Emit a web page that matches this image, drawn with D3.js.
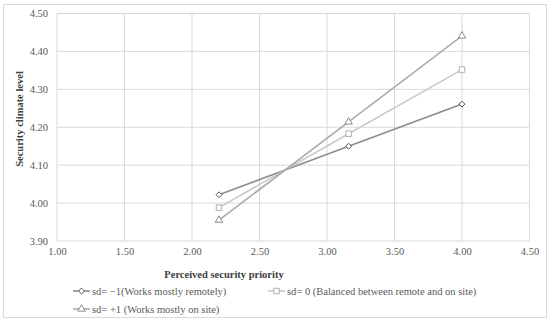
<!DOCTYPE html>
<html>
<head>
<meta charset="utf-8">
<script src="https://cdn.jsdelivr.net/npm/d3@7"></script>
<style>
body { margin: 0; background: #fff; }
text { font-family: "Liberation Serif", "Times New Roman", serif; }
</style>
</head>
<body>
<svg id="svg" width="550" height="322"></svg>
<script>
// chart data
var xValues = [2.2, 3.16, 4.0];
var seriesNames = ["sd= \u22121(Works mostly remotely)", "sd= 0 (Balanced between remote and on site)", "sd= +1 (Works mostly on site)"];
var lowValues = [4.022, 4.150, 4.261];
var midValues = [3.988, 4.183, 4.352];
var highValues = [3.955, 4.214, 4.441];
var xTicks = [1.0, 1.5, 2.0, 2.5, 3.0, 3.5, 4.0, 4.5];
var yTicks = [3.9, 4.0, 4.1, 4.2, 4.3, 4.4, 4.5];

var series = [
	{ name: seriesNames[0], values: lowValues, line: "#8c8c8c", mark: "#404040", symbol: d3.symbolDiamond2, size: 22 },
	{ name: seriesNames[1], values: midValues, line: "#c9c9c9", mark: "#a6a6a6", symbol: d3.symbolSquare, size: 30 },
	{ name: seriesNames[2], values: highValues, line: "#ababab", mark: "#7f7f7f", symbol: d3.symbolTriangle, size: 24 }
];

var svg = d3.select('#svg');

svg.append('rect')
	.attr('x', 3.5).attr('y', 4.5)
	.attr('width', 543).attr('height', 313)
	.attr('fill', '#fff')
	.attr('stroke', '#d9d9d9');

var x = d3.scaleLinear().domain([1.0, 4.5]).range([57, 529.5]);
var y = d3.scaleLinear().domain([3.9, 4.5]).range([241, 13.5]);

// grid
var grid = svg.append('g');
grid.selectAll('line.h')
	.data(yTicks)
	.enter()
	.append('line')
	.attr('x1', x(1.0)).attr('x2', x(4.5))
	.attr('y1', y).attr('y2', y)
	.attr('stroke', '#d9d9d9');
grid.selectAll('line.v')
	.data(xTicks)
	.enter()
	.append('line')
	.attr('y1', y(3.9)).attr('y2', y(4.5))
	.attr('x1', x).attr('x2', x)
	.attr('stroke', '#d9d9d9');

// axes, drawn only for their labels
var xAxis = svg.append('g')
	.attr('transform', 'translate(0,' + y(3.9) + ')')
	.call(d3.axisBottom(x).tickValues(xTicks).tickFormat(d3.format('.2f')).tickSize(0).tickPadding(7));
var yAxis = svg.append('g')
	.attr('transform', 'translate(' + x(1.0) + ',0)')
	.call(d3.axisLeft(y).tickValues(yTicks).tickFormat(d3.format('.2f')).tickSize(0).tickPadding(9));
[xAxis, yAxis].forEach(function(a){
	a.attr('font-family', '"Liberation Serif", serif');
	a.select('.domain').remove();
	a.selectAll('text')
		.style('font-family', '"Liberation Serif", serif')
		.style('font-size', '10.5px')
		.attr('fill', '#595959');
});

// lines + markers
var line = d3.line()
	.x(function(d, i){ return x(xValues[i]); })
	.y(function(d){ return y(d); });

series.forEach(function(s){
	svg.append('path')
		.attr('d', line(s.values))
		.attr('fill', 'none')
		.attr('stroke', s.line)
		.attr('stroke-width', 1.6);
});
series.forEach(function(s){
	svg.selectAll(null)
		.data(s.values)
		.enter()
		.append('path')
		.attr('d', d3.symbol().type(s.symbol).size(s.size))
		.attr('transform', function(d, i){ return 'translate(' + x(xValues[i]) + ',' + y(d) + ')'; })
		.attr('fill', '#fff')
		.attr('stroke', s.mark)
		.attr('stroke-width', 0.9);
});

// axis titles
svg.append('text')
	.attr('x', 224).attr('y', 278)
	.attr('text-anchor', 'middle')
	.attr('font-weight', 'bold')
	.attr('font-size', '10.5px')
	.attr('fill', '#404040')
	.text('Perceived security priority');
svg.append('text')
	.attr('transform', 'translate(23,119) rotate(-90)')
	.attr('text-anchor', 'middle')
	.attr('font-weight', 'bold')
	.attr('font-size', '10.5px')
	.attr('fill', '#404040')
	.text('Security climate level');

// legend
var legendPos = [[73, 291], [268, 291], [73, 309]];
series.forEach(function(s, i){
	var g = svg.append('g').attr('transform', 'translate(' + legendPos[i][0] + ',' + legendPos[i][1] + ')');
	g.append('line')
		.attr('x1', 0).attr('x2', 17)
		.attr('stroke', s.line)
		.attr('stroke-width', 1.6);
	g.append('path')
		.attr('d', d3.symbol().type(s.symbol).size(s.size))
		.attr('transform', 'translate(8.5,0)')
		.attr('fill', '#fff')
		.attr('stroke', s.mark)
		.attr('stroke-width', 0.9);
	g.append('text')
		.attr('x', 19).attr('y', 3.5)
		.attr('font-size', '10.5px')
		.attr('fill', '#595959')
		.text(s.name);
});
</script>
</body>
</html>
